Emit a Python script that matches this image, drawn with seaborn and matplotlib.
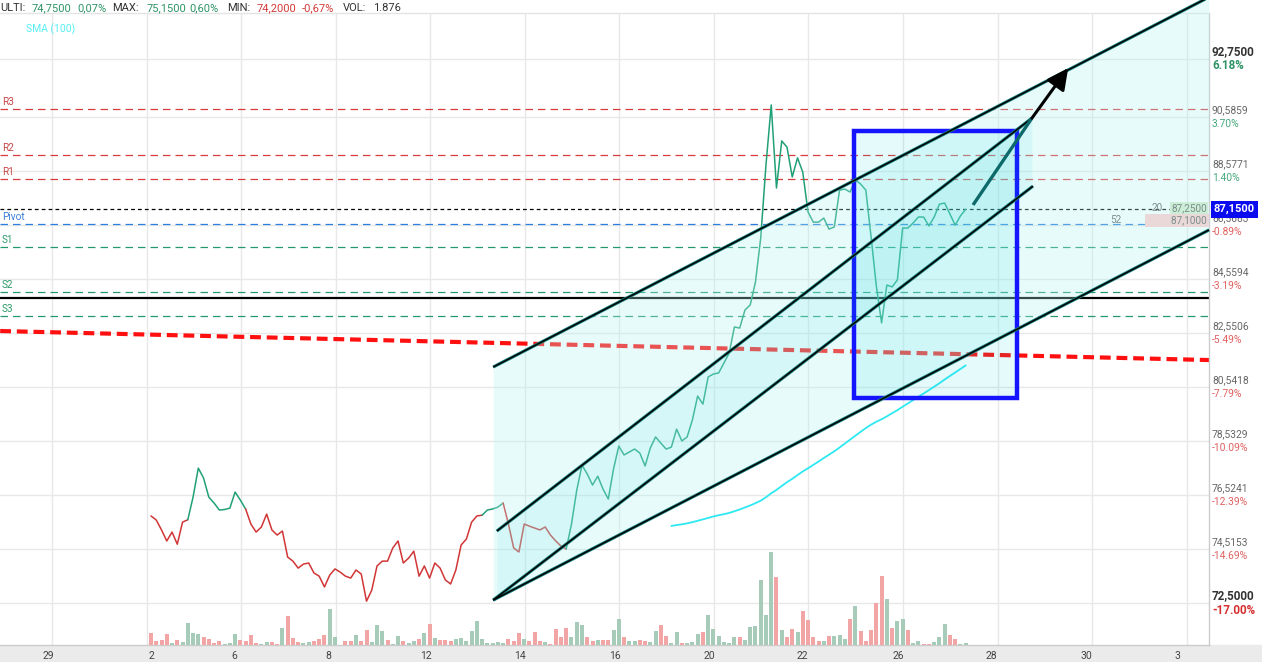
import numpy as np
import pandas as pd
import matplotlib
matplotlib.use('Agg')
import matplotlib.pyplot as plt
from matplotlib.patches import Rectangle
import seaborn as sns

# closing price per bar (bar index 0..155)
price = [
    75.74, 75.59, 75.22, 74.81, 75.14, 74.69, 75.51, 75.60, 76.44, 77.52,
    77.15, 76.44, 76.22, 75.96, 75.98, 76.03, 76.63, 76.33, 76.00, 75.44,
    75.14, 75.33, 75.81, 75.22, 75.03, 75.18, 74.21, 74.06, 73.80, 73.95,
    73.99, 73.62, 73.50, 73.10, 73.54, 73.77, 73.65, 73.50, 73.43, 73.73,
    73.58, 72.57, 72.98, 73.88, 74.06, 74.06, 74.55, 74.81, 73.99, 74.17,
    74.43, 73.50, 73.88, 73.43, 73.99, 73.80, 73.36, 73.21, 73.73, 74.66,
    74.88, 75.51, 75.74, 75.77, 75.96, 76.00, 76.07, 76.22, 75.44, 74.55,
    74.40, 75.44, 75.36, 75.29, 75.22, 75.33, 75.03, 74.81, 74.62, 74.51,
    75.44, 76.70, 77.63, 77.30, 76.89, 77.22, 76.74, 76.37, 77.49, 78.34,
    78.01, 78.12, 78.23, 78.08, 77.60, 78.27, 78.68, 78.45, 78.23, 78.30,
    78.97, 78.53, 78.68, 79.31, 80.20, 79.90, 80.91, 81.02, 81.06, 81.43,
    81.80, 82.77, 82.73, 83.40, 83.59, 84.44, 86.08, 88.79, 91.03, 87.94,
    89.69, 89.46, 88.35, 89.06, 88.53, 87.05, 86.67, 86.67, 86.82, 86.41,
    86.49, 87.86, 87.90, 87.79, 88.24, 88.09, 87.86, 86.12, 84.29, 82.92,
    84.33, 84.26, 84.52, 86.45, 86.45, 86.64, 86.86, 86.86, 86.53, 86.86,
    87.34, 87.38, 86.97, 86.56, 86.90, 87.15,
]

volume = [
    12, 4, 5, 11, 2, 5, 3, 22, 12, 11,
    8, 6, 2, 4, 1, 2, 11, 5, 4, 10,
    2, 1, 3, 3, 1, 17, 29, 7, 3, 2,
    3, 4, 6, 10, 36, 8, 0, 4, 4, 10,
    4, 15, 3, 20, 14, 5, 1, 9, 4, 2,
    4, 6, 12, 21, 7, 5, 5, 4, 6, 7,
    4, 14, 24, 6, 2, 2, 3, 2, 6, 4,
    12, 6, 4, 13, 4, 3, 1, 16, 8, 17,
    8, 23, 20, 8, 4, 5, 5, 5, 15, 26,
    8, 4, 4, 5, 4, 3, 14, 20, 9, 2,
    13, 2, 2, 3, 11, 13, 30, 16, 9, 3,
    2, 8, 8, 5, 18, 19, 65, 30, 93, 68,
    15, 8, 16, 13, 34, 25, 8, 4, 4, 9,
    9, 10, 6, 26, 39, 14, 4, 15, 42, 69,
    46, 17, 24, 26, 15, 2, 4, 1, 1, 3,
    8, 21, 10, 6, 1, 2,
]

# line colour changes (bar index where the trend flips)
trend_breaks = [0, 7, 18, 63, 67, 79, 155]
trend_dirs = ['down', 'up', 'down', 'up', 'down', 'up']

# pivot levels
pivot_names = ['R3', 'R2', 'R1', 'Pivot', 'S1', 'S2', 'S3']
pivot_levels = [90.88, 89.17, 88.27, 86.60, 85.74, 84.07, 83.18]
last_price = 87.15
support_level = 83.86

# right price scale
axis_prices = [92.75, 90.5859, 88.5771, 86.5683, 84.5594, 82.5506,
               80.5418, 78.5329, 76.5241, 74.5153, 72.50]
axis_price_labels = ['92,7500', '90,5859', '88,5771', '86,5683', '84,5594', '82,5506',
                     '80,5418', '78,5329', '76,5241', '74,5153', '72,5000']
axis_pct_labels = ['6.18%', '3.70%', '1.40%', '-0.89%', '-3.19%', '-5.49%',
                   '-7.79%', '-10.09%', '-12.39%', '-14.69%', '-17.00%']

# time axis (bar index units)
date_pos = [-19.6, 0.0, 15.8, 33.7, 52.3, 70.2, 88.3, 106.2, 124.0, 142.1, 159.8, 177.9, 195.2]
date_labels = ['29', '2', '6', '8', '12', '14', '16', '20', '22', '26', '28', '30', '3']
vgrid_pos = [-18.84, -0.85, 17.14, 35.13, 53.12, 71.11, 89.10, 107.09,
             125.08, 143.07, 161.06, 179.05, 197.04]

# drawings (bar index, price)
chan_lower_x, chan_lower_y = [65.1, 201.3], [72.61, 86.38]
chan_upper_x, chan_upper_y = [65.1, 201.3], [81.28, 95.04]
inner_lower_x, inner_lower_y = [65.1, 167.8], [72.61, 88.01]
inner_upper_x, inner_upper_y = [65.8, 167.6], [75.18, 90.54]
teal_x, teal_y = [156.4, 167.6], [87.31, 90.54]
arrow_x, arrow_y = [167.6, 174.5], [90.54, 92.40]
box_x, box_y = [133.75, 164.8], [80.13, 90.06]
ma_line_x, ma_line_y = [-28.7, 201.3], [82.62, 81.54]

GREEN = '#21a078'
RED = '#d13636'

sns.set_style('white')
plt.rcParams['font.family'] = ['Roboto', 'DejaVu Sans']

W, H = 1262, 662
fig = plt.figure(figsize=(W / 100, H / 100), dpi=100)
ax = fig.add_axes([0, 17 / H, 1209 / W, 632 / H])
ax.set_xlim(-28.73, 201.29)
ax.set_ylim(70.94, 94.45)

bars = np.arange(len(price))
df = pd.DataFrame({'bar': bars, 'price': price, 'volume': volume})
df['sma'] = df['price'].rolling(100).mean()
df['dir'] = np.where(df['price'].diff() > 0, 'up', 'down')

# grid
for v in vgrid_pos:
    ax.axvline(v, color='#e8e8e8', lw=1, zorder=0)
for p in axis_prices:
    ax.axhline(p, color='#e8e8e8', lw=1, zorder=0)

# pivot lines
pcol = {'R': '#d83c3c', 'P': '#2a7fe0', 'S': '#23996c'}
tcol = {'R': '#c84848', 'P': '#3a7fd5', 'S': '#2f9a6a'}
for name, lvl in zip(pivot_names, pivot_levels):
    ax.axhline(lvl, color=pcol[name[0]], lw=0.9, ls=(0, (6, 4)), zorder=1)
    ax.annotate(name, xy=(0, lvl), xycoords=('axes fraction', 'data'),
                xytext=(2, 7), textcoords='offset pixels', ha='left', va='center',
                fontsize=7.2, color=tcol[name[0]])
ax.axhline(last_price, color='black', lw=0.9, ls=(0, (3, 2.5)), zorder=2)
ax.axhline(support_level, color='black', lw=1.6, zorder=2)

# long red dashed trend
ax.plot(ma_line_x, ma_line_y, color='#ff1010', lw=3, ls=(0, (2.6, 1.4)), zorder=2)

# price line coloured by trend
for a, b, d in zip(trend_breaks[:-1], trend_breaks[1:], trend_dirs):
    seg = df.iloc[a:b + 1]
    sns.lineplot(x=seg['bar'].values, y=seg['price'].values,
                 color=GREEN if d == 'up' else RED, lw=1.1, ax=ax, zorder=3)

sma = df.dropna(subset=['sma'])
sns.lineplot(x=sma['bar'].values, y=sma['sma'].values, color='#2ee8f2', lw=1.3, ax=ax, zorder=3)

# channel fill
xs = np.array(chan_lower_x)
ax.fill_between(xs, np.interp(xs, chan_lower_x, chan_lower_y),
                np.interp(xs, chan_upper_x, chan_upper_y),
                color='#b6f4f4', alpha=0.3, lw=0, zorder=5, clip_on=False)

# blue box
ax.add_patch(Rectangle((box_x[0], box_y[0]), box_x[1] - box_x[0], box_y[1] - box_y[0],
                       fc=(0.0, 0.85, 0.85, 0.10), ec='#1414ff', lw=3.2, zorder=5.5))

# inner channel fill
xi = np.array(inner_upper_x)
ax.fill_between(xi, np.interp(xi, inner_lower_x, inner_lower_y),
                np.interp(xi, inner_upper_x, inner_upper_y),
                color='#00d0d0', alpha=0.08, lw=0, zorder=6)

# channel lines
for lx, ly in [(chan_lower_x, chan_lower_y), (chan_upper_x, chan_upper_y),
               (inner_lower_x, inner_lower_y), (inner_upper_x, inner_upper_y)]:
    ax.plot(lx, ly, color='#1a8482', lw=2.3, zorder=7, clip_on=False, solid_capstyle='butt')
    ax.plot(lx, ly, color='black', lw=1.1, zorder=7.5, clip_on=False, solid_capstyle='butt')

ax.plot(teal_x, teal_y, color='#0e6a6a', lw=2.4, zorder=8, solid_capstyle='butt')
ax.annotate('', xy=(arrow_x[1], arrow_y[1]), xytext=(arrow_x[0], arrow_y[0]),
            arrowprops=dict(arrowstyle='-|>', color='black', lw=2.2, mutation_scale=32,
                            shrinkA=0, shrinkB=0), zorder=9)

# volume on a hidden twin axis
ax2 = ax.twinx()
vol_colors = df['dir'].map({'up': '#a7cbb9', 'down': '#f2a5a5'})
ax2.bar(df['bar'], df['volume'], width=0.76, color=vol_colors, lw=0)
ax2.set_ylim(0, 632)
ax2.set_xlim(-28.73, 201.29)
ax2.set_yticks([])
for s in ax2.spines.values():
    s.set_visible(False)

# axes styling
ax.set_xticks(date_pos, date_labels)
ax.set_yticks([])
ax.tick_params(axis='x', length=0, pad=4, labelsize=7.5, labelcolor='#444444')
ax.set_xlabel('')
ax.set_ylabel('')
ax.spines['left'].set_visible(False)
ax.spines['top'].set_color('#e4e4e4')
ax.spines['right'].set_color('#cccccc')
ax.spines['bottom'].set_color('#cccccc')
for s in ax.spines.values():
    s.set_linewidth(1)
fig.patches.append(Rectangle((0, 0), 1, 17 / H, transform=fig.transFigure,
                             color='#ebebeb', zorder=-1))

# right price scale labels
trans = ('axes fraction', 'data')
n = len(axis_prices)
for i, (p, pl, pc) in enumerate(zip(axis_prices, axis_price_labels, axis_pct_labels)):
    bold = i in (0, n - 1)
    neg = pc.startswith('-')
    ccol = ('#d63030' if neg else '#2e9466') if bold else ('#e06060' if neg else '#45a87a')
    ax.annotate(pl, xy=(1, p), xycoords=trans, xytext=(3, 7), textcoords='offset pixels',
                ha='left', va='center', fontsize=8.4 if bold else 7.4,
                fontweight='bold' if bold else 'normal',
                color='#333333' if bold else '#666666', annotation_clip=False)
    ax.annotate(pc, xy=(1, p), xycoords=trans, xytext=(3, -7), textcoords='offset pixels',
                ha='left', va='center', fontsize=8.4 if bold else 7.4,
                fontweight='bold' if bold else 'normal', color=ccol, annotation_clip=False)

# order book tags and last price
ax.annotate('87,2500', xy=(1, last_price), xycoords=trans, xytext=(-2, 1),
            textcoords='offset pixels', ha='right', va='center', fontsize=7.2, color='#7d8c8c',
            bbox=dict(boxstyle='square,pad=0.12', fc='#cdeed6', ec='none'), zorder=10)
ax.annotate('20', xy=(1, last_price), xycoords=trans, xytext=(-46, 1),
            textcoords='offset pixels', ha='right', va='center', fontsize=7.2, color='#7d8c8c', zorder=10)
ax.annotate('          87,1000', xy=(1, last_price), xycoords=trans, xytext=(-2, -11),
            textcoords='offset pixels', ha='right', va='center', fontsize=7.2, color='#7d8c8c',
            bbox=dict(boxstyle='square,pad=0.15', fc='#ead8d8', ec='none'), zorder=10)
ax.annotate('52', xy=(1, last_price), xycoords=trans, xytext=(-88, -11),
            textcoords='offset pixels', ha='right', va='center', fontsize=7.2, color='#7d8c8c', zorder=10)
ax.annotate('87,1500', xy=(1, last_price), xycoords=trans, xytext=(5, 0),
            textcoords='offset pixels', ha='left', va='center', fontsize=8, fontweight='bold',
            color='white', bbox=dict(boxstyle='square,pad=0.28', fc='#0b0bf0', ec='none'),
            zorder=20, annotation_clip=False)

# header
header = [('ULTI:', 0, '#333333'), ('74,7500', 32, '#2e9466'), ('0,07%', 77, '#2e9466'),
          ('MAX:', 112, '#333333'), ('75,1500', 147, '#2e9466'), ('0,60%', 189, '#2e9466'),
          ('MIN:', 227, '#333333'), ('74,2000', 257, '#d33a3a'), ('-0,67%', 302, '#d33a3a'),
          ('VOL:', 343, '#333333'), ('1.876', 373, '#333333')]
for txt, px, c in header:
    fig.text(px / W, 1 - 8 / H, txt, ha='left', va='center', fontsize=8, color=c)
fig.text(26 / W, 1 - 29 / H, 'SMA (100)', ha='left', va='center', fontsize=7.5, color='#55eef2')

fig.savefig('out.png', dpi=100)
